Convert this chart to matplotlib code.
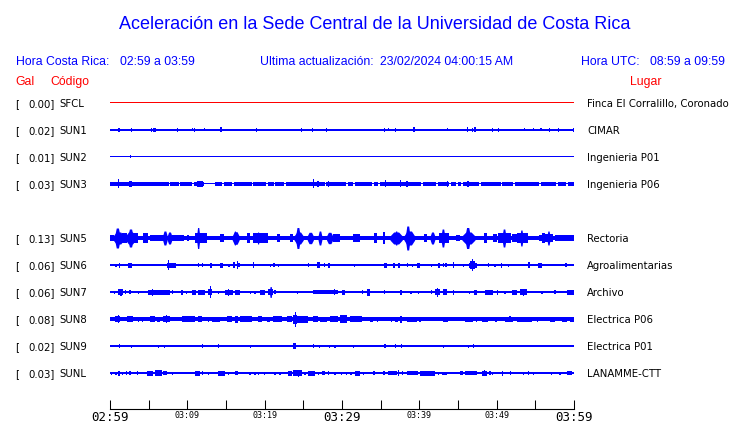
import matplotlib
matplotlib.use("Agg")
import matplotlib.pyplot as plt

W, H = 740, 423
AZUL = "#0000ff"
ROJO = "#ff0000"

# estaciones (SUN4 no aparece, queda su renglon vacio)
codigos = ["SFCL", "SUN1", "SUN2", "SUN3", "SUN5", "SUN6", "SUN7", "SUN8", "SUN9", "SUNL"]
gal = ["0.00", "0.02", "0.01", "0.03", "0.13", "0.06", "0.06", "0.08", "0.02", "0.03"]
lugares = ["Finca El Corralillo, Coronado", "CIMAR", "Ingenieria P01", "Ingenieria P06",
           "Rectoria", "Agroalimentarias", "Archivo", "Electrica P06", "Electrica P01",
           "LANAMME-CTT"]
renglon = [0, 1, 2, 3, 5, 6, 7, 8, 9, 10]
# semiancho del trazo base (px)
base = [0.5, 0.6, 0.5, 0.5, 2.0, 0.6, 0.6, 1.7, 0.6, 0.6]

# rafagas: (minuto inicio, minuto fin, semi-amplitud px)
SFCL = []
SUN1 = [(1.16, 1.16, 2), (2.78, 2.78, 2), (5.39, 5.39, 2), (5.56, 5.95, 2), (8.70, 8.70, 2),
        (10.67, 10.67, 1.5), (10.90, 10.90, 2), (12.19, 12.19, 1.5), (14.2, 14.45, 2.5),
        (18.94, 18.94, 2), (24.76, 24.76, 2), (26.19, 26.19, 2), (28.02, 28.02, 2),
        (35.4, 35.6, 2), (35.99, 35.99, 1.5), (36.92, 36.92, 2), (39.2, 39.45, 2.5),
        (43.62, 43.62, 1.5), (46.23, 46.23, 2.5), (46.88, 46.88, 2), (47.07, 47.33, 2.5),
        (49.46, 49.46, 2), (50.26, 50.26, 2), (53.57, 53.57, 1.5), (54.74, 54.74, 1.5),
        (55.73, 55.73, 1.5), (56.8, 56.9, 2), (58.03, 58.03, 2), (59.91, 59.91, 2)]
SUN2 = [(2.63, 2.63, 1.5)]
SUN3 = [(0, 7.6, 1.7), (7.8, 8.9, 1.7), (9.1, 10.6, 1.7), (10.8, 12.2, 1.7), (13.6, 14.5, 1.7),
        (14.7, 15.8, 1.7), (16.0, 18.3, 1.7), (18.5, 20.2, 1.7), (20.4, 21.2, 1.7),
        (21.4, 22.5, 1.7), (22.7, 27.8, 1.7), (27.9, 30.5, 1.7), (30.75, 31.4, 1.7),
        (31.65, 33.9, 1.7), (34.15, 34.6, 1.7), (34.85, 40.2, 1.7), (40.45, 42.1, 1.7),
        (42.35, 43.8, 1.7), (44.05, 44.7, 1.7), (44.95, 45.4, 1.7), (45.65, 47.7, 1.7),
        (47.95, 50.5, 1.7), (50.75, 52.1, 1.7), (52.35, 55.5, 1.7), (55.75, 57.7, 1.7),
        (57.95, 59.0, 1.7), (59.25, 60, 1.7),
        (1.07, 1.07, 4.5), (2.5, 2.8, 3), (11.2, 12.0, 3.3), (26.3, 26.3, 4.5), (26.9, 26.9, 3),
        (28.2, 28.2, 3), (35.6, 35.6, 3.5), (37.6, 37.6, 3.5), (38.4, 38.4, 3), (43.6, 43.6, 3),
        (46.3, 46.3, 3)]
SUN5 = [(0.0, 0.5, 3), (0.4, 1.8, 6), (0.6, 1.3, 10), (1.6, 2.2, 5), (2.0, 3.3, 6), (2.3, 3.0, 9),
        (3.0, 3.6, 5), (4.3, 4.9, 4.7), (5.2, 7.0, 3), (6.8, 7.4, 7), (7.4, 8.0, 6), (8.0, 9.6, 3),
        (10.0, 10.2, 3), (11.0, 12.5, 5), (11.2, 11.6, 10.5), (14.2, 14.8, 4), (15.8, 16.7, 6.3),
        (16.0, 16.3, 7), (17.7, 18.1, 4.7), (18.5, 20.4, 5.3), (19.0, 19.3, 6), (21.6, 22.0, 4),
        (23.3, 23.7, 4), (23.8, 25.0, 6), (24.0, 24.6, 10.5), (25.5, 26.3, 5.7), (26.9, 27.4, 7),
        (28.0, 28.8, 5.7), (28.8, 29.7, 4), (31.4, 32.3, 4), (34.1, 34.5, 4.7), (35.3, 35.5, 5.7),
        (36.2, 37.8, 6), (36.8, 37.2, 7), (38.0, 39.4, 7), (38.2, 38.8, 12), (40.6, 41.0, 4),
        (41.4, 42.0, 6), (42.5, 43.8, 5), (42.8, 43.3, 9), (44.8, 45.3, 3), (45.5, 47.2, 6),
        (45.9, 46.6, 10.5), (48.4, 48.8, 5), (49.5, 50.0, 4), (50.2, 51.8, 5), (50.7, 51.2, 9),
        (52.0, 52.6, 4), (52.6, 54.0, 5), (53.0, 53.4, 8), (55.5, 55.9, 3), (55.8, 56.2, 5),
        (56.0, 57.3, 4), (56.5, 56.9, 7), (57.5, 60.0, 3)]
SUN6 = [(0.78, 0.78, 1.5), (1.1, 1.25, 2.5), (2.37, 2.81, 2.5), (7.33, 8.5, 2.5), (7.5, 7.6, 5),
        (11.42, 11.42, 2), (11.99, 11.99, 2), (13.06, 13.06, 2.5), (14.22, 14.65, 2.5),
        (15.39, 15.39, 1.5), (15.87, 16.16, 3), (16.51, 16.51, 4), (16.68, 16.68, 2),
        (18.58, 18.58, 3), (20.78, 20.78, 1.5), (21.21, 21.21, 2), (21.76, 21.76, 1.5),
        (25.64, 25.64, 2), (26.73, 27.16, 3), (27.71, 27.71, 2), (28.32, 28.32, 2.5),
        (31.59, 31.59, 1.5), (35.47, 35.78, 2.5), (36.63, 36.85, 2.5), (37.28, 37.5, 2.5),
        (38.5, 38.5, 2), (39.09, 39.09, 1.5), (39.74, 40.09, 2.5), (41.6, 41.6, 1.5),
        (42.38, 42.67, 2.5), (43.1, 43.1, 2), (43.45, 43.45, 2), (44.39, 44.39, 3),
        (45.69, 45.69, 1.5), (46.46, 47.42, 2.5), (46.6, 47.2, 4), (46.8, 47.0, 6),
        (48.92, 48.92, 2), (49.78, 49.78, 1.5), (50.65, 50.65, 2.5), (51.5, 51.5, 1.5),
        (54.09, 54.31, 3), (55.38, 55.82, 2.5), (58.97, 58.97, 2)]
SUN7 = [(0.58, 0.58, 1.5), (1.07, 1.72, 3), (1.35, 1.5, 3.5), (2.03, 2.03, 2), (2.59, 2.59, 2),
        (3.66, 3.66, 1.5), (4.88, 7.76, 2.5), (5.45, 5.6, 3.5), (8.11, 8.11, 2), (9.18, 9.48, 2.5),
        (9.92, 9.92, 1.5), (10.64, 11.08, 2.5), (11.42, 12.28, 2.5), (12.71, 13.15, 3),
        (12.9, 13.05, 6.3), (14.0, 14.0, 1.5), (14.87, 15.94, 2.5), (15.25, 15.35, 3.5),
        (16.16, 16.81, 2.5), (18.19, 18.19, 1.5), (18.75, 18.75, 1.5), (19.4, 20.04, 2.5),
        (20.47, 21.12, 3), (20.6, 20.95, 5.5), (21.34, 21.34, 2), (24.27, 24.27, 1.5),
        (26.29, 29.52, 2.2), (29.0, 29.15, 3), (29.96, 30.39, 2.5), (32.68, 32.68, 2),
        (33.19, 33.62, 3.5), (35.47, 35.47, 2), (37.63, 37.63, 2.5), (38.92, 38.92, 1.5),
        (39.87, 39.87, 1.5), (41.6, 41.6, 2), (42.03, 42.67, 3), (42.3, 42.45, 4.5),
        (43.1, 43.54, 3), (44.39, 44.39, 2.5), (46.46, 46.46, 1.5), (47.1, 47.42, 2.5),
        (48.49, 49.56, 2.5), (50.0, 50.21, 2.5), (51.08, 51.08, 1.5), (51.94, 52.59, 2.5),
        (53.02, 53.88, 3), (53.35, 53.5, 3.5), (55.86, 55.86, 1.5), (57.54, 57.54, 2),
        (59.05, 60, 2.5)]
SUN8 = [(0.65, 1.29, 3.3), (1.1, 1.2, 4), (2.16, 3.01, 3), (3.66, 3.66, 2.5), (4.23, 4.23, 2.5),
        (5.17, 5.82, 3), (6.04, 6.47, 2.5), (6.89, 7.76, 3.3), (7.3, 7.4, 4), (9.35, 10.99, 3),
        (11.42, 11.86, 3), (12.71, 12.71, 2.5), (13.15, 14.22, 2.5), (15.09, 15.74, 3),
        (16.16, 16.59, 3.5), (16.81, 18.32, 3), (19.18, 19.62, 3), (20.26, 20.69, 2.5),
        (21.12, 22.2, 3), (22.85, 23.5, 3), (23.7, 24.14, 4.5), (23.95, 24.05, 7.5),
        (24.14, 25.64, 3.5), (26.29, 26.94, 3), (27.16, 28.02, 2.5), (28.45, 29.52, 3.3),
        (29.74, 30.61, 4.3), (31.03, 32.55, 3), (33.62, 34.05, 2.5), (34.62, 34.62, 2.5),
        (35.47, 35.47, 2), (36.43, 36.43, 2.5), (36.85, 37.28, 2.5), (37.63, 37.63, 3.5),
        (38.37, 39.66, 2.5), (40.09, 40.09, 2.5), (41.38, 41.38, 2), (43.1, 43.74, 2.5),
        (44.39, 44.39, 2), (45.91, 46.98, 2.5), (47.42, 47.42, 2.5), (48.06, 48.92, 2.5),
        (49.78, 50.0, 2.5), (51.08, 52.15, 2.5), (51.65, 51.8, 3), (52.59, 54.53, 2.5),
        (55.18, 55.39, 2.5), (56.9, 57.54, 2.5), (58.41, 59.05, 2.5), (59.48, 60, 2.5)]
SUN9 = [(1.2, 1.2, 2), (2.81, 2.81, 1.5), (6.25, 6.25, 1.5), (7.02, 7.02, 1.5), (11.94, 11.94, 2),
        (14.0, 14.0, 2), (18.19, 18.19, 1.5), (23.7, 24.01, 2.7), (26.2, 26.4, 2.3),
        (27.06, 27.06, 1.5), (28.36, 28.36, 1.5), (29.09, 29.09, 1.5), (31.46, 31.46, 1.5),
        (35.56, 35.56, 2), (36.94, 36.94, 2), (37.72, 37.72, 2), (43.1, 43.1, 1.5),
        (46.33, 46.33, 1.5), (46.98, 46.98, 2)]
SUNL = [(0.22, 0.22, 1.5), (0.65, 0.87, 1.5), (1.07, 1.29, 2.5), (1.64, 1.64, 1.5), (2.16, 2.16, 2),
        (2.59, 2.59, 2), (3.45, 3.66, 2), (4.75, 5.6, 2.5), (5.82, 6.69, 2.7), (6.05, 6.2, 3),
        (6.89, 7.33, 2), (8.11, 8.11, 1.5), (10.99, 11.64, 2.5), (11.99, 11.99, 2),
        (12.71, 12.71, 1.5), (14.0, 14.87, 2.5), (15.3, 15.3, 1.5), (16.16, 16.59, 2),
        (18.1, 18.1, 1.5), (18.75, 18.75, 1.5), (19.18, 19.18, 1.5), (19.95, 19.95, 1.5),
        (21.34, 21.34, 1.5), (21.98, 21.98, 1.5), (23.06, 23.5, 2.5), (23.7, 24.79, 2.7),
        (24.3, 24.4, 3.5), (25.22, 25.22, 1.5), (25.64, 26.51, 2.5), (26.94, 26.94, 1.5),
        (27.37, 27.8, 2), (28.23, 28.23, 2), (29.09, 29.09, 1.5), (29.96, 29.96, 1.5),
        (30.61, 30.61, 1.5), (31.16, 31.16, 1.5), (31.68, 32.33, 2.5), (32.75, 32.75, 1.5),
        (34.05, 34.27, 2), (35.34, 35.56, 2), (35.99, 37.07, 2.3), (37.28, 37.28, 3),
        (37.72, 37.93, 2), (38.37, 39.87, 2.3), (40.09, 42.03, 2.5), (42.45, 42.45, 1.5),
        (42.89, 43.54, 1.5), (45.26, 45.69, 2), (45.91, 47.42, 2.3), (48.06, 48.71, 2.5),
        (48.4, 48.55, 3), (49.14, 49.14, 2), (49.49, 49.49, 1.5), (50.73, 50.73, 2.5),
        (51.81, 51.81, 2), (53.44, 53.44, 1.5), (54.09, 54.09, 2), (54.74, 54.74, 1.5),
        (57.12, 57.12, 1.5), (58.19, 58.19, 1.5), (59.05, 59.7, 2)]
rafagas = [SFCL, SUN1, SUN2, SUN3, SUN5, SUN6, SUN7, SUN8, SUN9, SUNL]

etiquetas_x = ["02:59", "03:09", "03:19", "03:29", "03:39", "03:49", "03:59"]

# ---------------------------------------------------------------
fig = plt.figure(figsize=(W / 100, H / 100), dpi=100)
fig.patch.set_facecolor("white")


def ftxt(x, y, s, **kw):
    # texto en coordenadas de pixel (origen arriba a la izquierda)
    fig.text(x / W, 1 - y / H, s, **kw)


SEP = 27          # px entre renglones
Y0 = 103          # px del primer trazo
X0, X1, YTOP, YBOT = 110, 574, 90, 409
ax = fig.add_axes([X0 / W, 1 - YBOT / H, (X1 - X0) / W, (YBOT - YTOP) / H])
ax.set_xlim(0, 60)
ax.set_ylim(-(YBOT - Y0), Y0 - YTOP)

for i, slot in enumerate(renglon):
    yc = -SEP * slot
    col = ROJO if codigos[i] == "SFCL" else AZUL
    b = base[i]
    ax.bar(0, 2 * b, width=60, bottom=yc - b, align="edge", color=col, linewidth=0)
    for t0, t1, a in rafagas[i]:
        w = t1 - t0
        if w < 0.15:
            t0, w = (t0 + t1) / 2 - 0.075, 0.15
            t1 = t0 + w
        if a >= 5.5 and w >= 0.3:
            # rafagas grandes con forma de huso
            r = 0.3 * w
            xs = [t0, t0 + r, t1 - r, t1]
            env = [b, a, a, b]
            ax.fill_between(xs, [yc - e for e in env], [yc + e for e in env],
                            color=col, linewidth=0)
        else:
            ax.bar(t0, 2 * a, width=w, bottom=yc - a, align="edge", color=col, linewidth=0)

    ty = Y0 + SEP * slot + 4
    ftxt(14.7, ty, "[", fontsize=7.3, family="DejaVu Sans", va="baseline")
    ftxt(54.5, ty, gal[i] + "]", fontsize=7.3, family="DejaVu Sans", va="baseline", ha="right")
    ftxt(59, ty, codigos[i], fontsize=7.3, family="DejaVu Sans", va="baseline")
    ftxt(587.3, ty, lugares[i], fontsize=7.3, family="DejaVu Sans", va="baseline")

for s in ["left", "right", "top"]:
    ax.spines[s].set_visible(False)
ax.spines["bottom"].set_linewidth(0.8)
ax.set_yticks([])
ax.set_xticks(range(0, 61, 10))
ax.set_xticks(range(5, 60, 10), minor=True)
ax.set_xticklabels(etiquetas_x, family="DejaVu Sans Mono")
ax.tick_params(axis="x", which="both", direction="in", length=6.5, width=0.75, pad=1.5)
for j, lab in enumerate(ax.get_xticklabels()):
    lab.set_fontsize(9 if j in (0, 3, 6) else 6)
ax.patch.set_alpha(0)

fuente = "Liberation Sans"
ftxt(375, 29.3, "Aceleración en la Sede Central de la Universidad de Costa Rica",
     fontsize=13, family=fuente, color=AZUL, ha="center", va="baseline")
ftxt(15.7, 65, "Hora Costa Rica:", fontsize=8.8, family=fuente, color=AZUL, va="baseline")
ftxt(120, 65, "02:59 a 03:59", fontsize=8.8, family=fuente, color=AZUL, va="baseline")
ftxt(260, 65, "Ultima actualización:", fontsize=8.8, family=fuente, color=AZUL, va="baseline")
ftxt(380, 65, "23/02/2024 04:00:15 AM", fontsize=8.8, family=fuente, color=AZUL, va="baseline")
ftxt(580.7, 65, "Hora UTC:", fontsize=8.8, family=fuente, color=AZUL, va="baseline")
ftxt(650, 65, "08:59 a 09:59", fontsize=8.8, family=fuente, color=AZUL, va="baseline")
ftxt(15.3, 85, "Gal", fontsize=8.8, family=fuente, color=ROJO, va="baseline")
ftxt(50.7, 85, "Código", fontsize=8.8, family=fuente, color=ROJO, va="baseline")
ftxt(630, 85, "Lugar", fontsize=8.8, family=fuente, color=ROJO, va="baseline")

fig.savefig("out.png", dpi=100)
plt.close(fig)
